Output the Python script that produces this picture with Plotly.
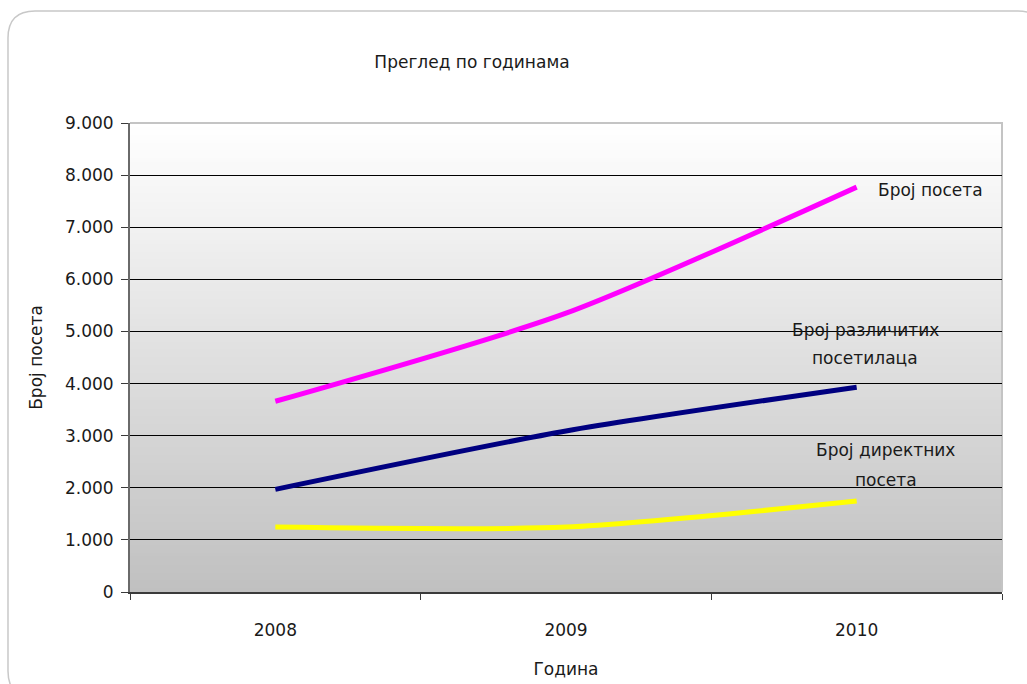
import plotly.graph_objects as go

# Yearly visit statistics
years = [2008, 2009, 2010]
year_labels = ["2008", "2009", "2010"]
visits = [3660, 5350, 7770]            # Број посета
unique_visitors = [1970, 3090, 3930]   # Број различитих посетилаца
direct_visits = [1245, 1245, 1745]     # Број директних посета

y_ticks = [0, 1000, 2000, 3000, 4000, 5000, 6000, 7000, 8000, 9000]
y_tick_labels = ["0", "1.000", "2.000", "3.000", "4.000", "5.000",
                 "6.000", "7.000", "8.000", "9.000"]

FONT = "DejaVu Sans"
FS = 17
TXT = "#1a1a1a"

W, H = 1027, 684
ML, MR, MT, MB = 130, 25, 123, 92
PW, PH = W - ML - MR, H - MT - MB


def fx(px):
    return (px - ML) / PW


def fy(py):
    return (H - MB - py) / PH


fig = go.Figure()

series = [
    (direct_visits, "#ffff00", "Број директних посета"),
    (unique_visitors, "#000080", "Број различитих посетилаца"),
    (visits, "#ff00ff", "Број посета"),
]
for vals, color, name in series:
    fig.add_trace(go.Scatter(
        x=years, y=vals, mode="lines", name=name,
        line=dict(color=color, width=5, shape="spline", smoothing=0.7),
        showlegend=False, hoverinfo="x+y+name",
    ))

shapes = []
# vertical gradient behind the plot area (white at top, grey at bottom)
n_bands = 120
top_c, bot_c = (255, 255, 255), (192, 192, 192)
for i in range(n_bands):
    t0 = i / n_bands
    t1 = (i + 1) / n_bands
    tm = (t0 + t1) / 2
    c = tuple(round(bot_c[k] + (top_c[k] - bot_c[k]) * tm) for k in range(3))
    shapes.append(dict(
        type="rect", xref="paper", yref="paper", x0=0, x1=1, y0=t0, y1=t1 + 0.002,
        fillcolor="rgb(%d,%d,%d)" % c, line=dict(width=0), layer="below",
    ))

# light frame on top/right of the plot area
shapes.append(dict(type="path", xref="paper", yref="paper",
                   path="M 0,1 L 1,1 L 1,0", line=dict(color="#c4c4c4", width=2),
                   layer="below"))

# rounded outer chart border
x0, y0, x1, y1, R = 8, 11, 1045, 698, 27
pts = [
    ("M", [(x0, y0 + R)]),
    ("Q", [(x0, y0), (x0 + R, y0)]),
    ("L", [(x1 - R, y0)]),
    ("Q", [(x1, y0), (x1, y0 + R)]),
    ("L", [(x1, y1 - R)]),
    ("Q", [(x1, y1), (x1 - R, y1)]),
    ("L", [(x0 + R, y1)]),
    ("Q", [(x0, y1), (x0, y1 - R)]),
]
path = " ".join(cmd + " " + " ".join("%.5f,%.5f" % (fx(a), fy(b)) for a, b in p)
                for cmd, p in pts) + " Z"
shapes.append(dict(type="path", xref="paper", yref="paper", path=path,
                   line=dict(color="#c8c8c8", width=1.5), layer="below"))

annotations = [
    dict(text="Број посета", x=2010.065, y=7720, xanchor="left", yanchor="middle"),
    dict(text="Број различитих", x=2010.03, y=5035, xanchor="center", yanchor="middle"),
    dict(text="посетилаца", x=2010.03, y=4495, xanchor="center", yanchor="middle"),
    dict(text="Број директних", x=2010.1, y=2725, xanchor="center", yanchor="middle"),
    dict(text="посета", x=2010.1, y=2150, xanchor="center", yanchor="middle"),
]
for a in annotations:
    a.update(xref="x", yref="y", showarrow=False,
             font=dict(family=FONT, size=FS, color=TXT))

fig.update_layout(
    width=W, height=H,
    margin=dict(l=ML, r=MR, t=MT, b=MB, pad=0, autoexpand=False),
    paper_bgcolor="white",
    plot_bgcolor="rgba(0,0,0,0)",
    font=dict(family=FONT, size=FS, color=TXT),
    title=dict(text="Преглед по годинама", x=472 / W, xanchor="center",
               y=1 - 62 / H, yanchor="middle",
               font=dict(family=FONT, size=FS, color=TXT)),
    shapes=shapes,
    annotations=annotations,
    xaxis=dict(
        range=[2007.5, 2010.5], tickvals=years, ticktext=year_labels,
        ticks="", showgrid=False, zeroline=False, automargin=False,
        showline=True, linecolor="#3a3a3a", linewidth=1.5,
        tickfont=dict(family=FONT, size=FS, color=TXT),
        ticklabelstandoff=22,
        minor=dict(tickvals=[2007.5, 2008.5, 2009.5, 2010.5], ticks="outside",
                   ticklen=6, tickcolor="#3a3a3a", tickwidth=1, showgrid=False),
        title=dict(text="Година", standoff=24,
                   font=dict(family=FONT, size=FS, color=TXT)),
        fixedrange=True,
    ),
    yaxis=dict(
        range=[0, 9000], tickvals=y_ticks, ticktext=y_tick_labels,
        ticks="outside", ticklen=7, tickcolor="#3a3a3a", tickwidth=1,
        ticklabelstandoff=4, automargin=False,
        showgrid=True, gridcolor="#000000", gridwidth=1, zeroline=False,
        showline=True, linecolor="#6a6a6a", linewidth=2,
        tickfont=dict(family=FONT, size=FS, color=TXT),
        title=dict(text="Број посета", standoff=18,
                   font=dict(family=FONT, size=FS, color=TXT)),
        fixedrange=True,
    ),
)

fig.write_html("out.html")
